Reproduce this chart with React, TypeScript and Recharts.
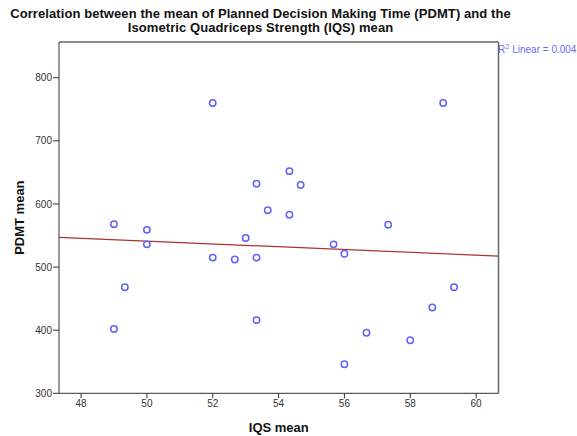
import { ScatterChart, Scatter, XAxis, YAxis, ReferenceLine } from 'recharts';

// IQS mean (x) vs PDMT mean (y)
const iqsMean = [52, 59, 54.33, 53.33, 54.67, 53.67, 54.33, 49, 57.33, 50, 53, 50, 55.67, 56, 52, 52.67, 53.33, 49.33, 59.33, 58.67, 53.33, 49, 56.67, 58, 56];
const pdmtMean = [760, 760, 652, 632, 630, 590, 583, 568, 567, 559, 546, 536, 536, 521, 515, 512, 515, 468, 468, 436, 416, 402, 396, 384, 346];

// fit line end points at the frame edges
const fitX = [47.33, 60.68];
const fitY = [547, 517.4];

const xTicks = [48, 50, 52, 54, 56, 58, 60];
const yTicks = [300, 400, 500, 600, 700, 800];

const points = iqsMean.map((x, i) => ({ x, y: pdmtMean[i] }));
const fitLine = fitX.map((x, i) => ({ x, y: fitY[i] }));

const X_DOMAIN: [number, number] = [47.33, 60.68];
const Y_DOMAIN: [number, number] = [300, 856.6];

const font = '"Liberation Sans", Arial, sans-serif';

const Ring = (props: any) => (
  <circle cx={props.cx} cy={props.cy} r={3.2} fill="none" stroke="#6161ff" strokeWidth={1.5} />
);

const titleLine = {
  position: 'absolute' as const,
  left: 0,
  width: 521,
  textAlign: 'center' as const,
  fontSize: 13,
  fontWeight: 700,
  lineHeight: '14px',
  letterSpacing: '0.08px',
  color: '#111',
  whiteSpace: 'nowrap' as const,
};

export default function App() {
  return (
    <div style={{ position: 'absolute', left: 0, top: 0, width: 577, height: 436, background: '#fff', fontFamily: font }}>
      <div style={{ ...titleLine, top: 7 }}>
        Correlation between the mean of Planned Decision Making Time (PDMT) and the
      </div>
      <div style={{ ...titleLine, top: 21 }}>Isometric Quadriceps Strength (IQS) mean</div>
      <div style={{ position: 'absolute', left: 498, top: 44, fontSize: 10, color: '#6b6bff', whiteSpace: 'nowrap' }}>
        R<sup style={{ fontSize: 7.5, verticalAlign: 'top', position: 'relative', top: -2 }}>2</sup> Linear = 0.004
      </div>
      <ScatterChart width={577} height={436} margin={{ top: 42, right: 78.5, left: 19, bottom: 12.7 }}>
        <XAxis
          type="number"
          dataKey="x"
          domain={X_DOMAIN}
          ticks={xTicks}
          allowDataOverflow
          height={30}
          tickSize={5}
          tickMargin={2}
          stroke="#333"
          tick={{ fill: '#333', fontSize: 10, fontFamily: font }}
          label={{ value: 'IQS mean', position: 'insideBottom', offset: -9, fill: '#111', fontSize: 13, fontWeight: 700, fontFamily: font }}
        />
        <YAxis
          type="number"
          dataKey="y"
          domain={Y_DOMAIN}
          ticks={yTicks}
          allowDataOverflow
          width={40}
          tickSize={6}
          tickMargin={1}
          stroke="#333"
          tick={{ fill: '#333', fontSize: 10, fontFamily: font }}
          label={{ value: 'PDMT mean', angle: -90, position: 'insideLeft', offset: 0, fill: '#111', fontSize: 13, fontWeight: 700, fontFamily: font, style: { textAnchor: 'middle' } }}
        />
        <ReferenceLine x={X_DOMAIN[1]} stroke="#666" strokeWidth={1.5} />
        <ReferenceLine y={Y_DOMAIN[1]} stroke="#666" strokeWidth={1.5} />
        <Scatter data={fitLine} line={{ stroke: '#a83232', strokeWidth: 1.2 }} shape={() => <g />} isAnimationActive={false} />
        <Scatter data={points} shape={Ring} isAnimationActive={false} />
      </ScatterChart>
    </div>
  );
}
